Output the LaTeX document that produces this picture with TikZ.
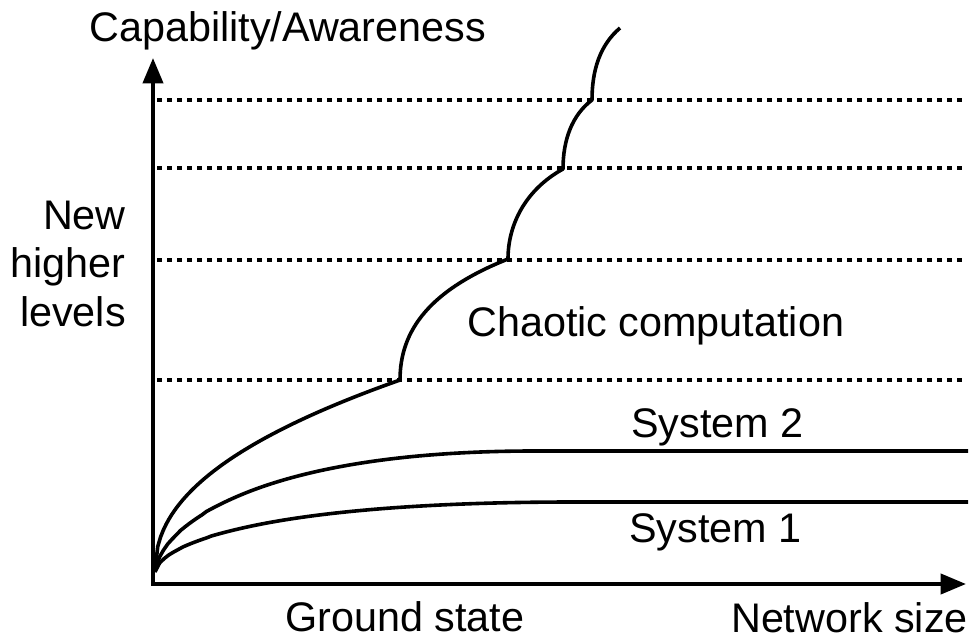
\documentclass[tikz,border=0pt]{standalone}
\usepackage{fontspec}
\setmainfont{Liberation Sans}
\usetikzlibrary{arrows.meta}
\begin{document}
\begin{tikzpicture}[x=0.75pt, y=-0.75pt,
  axis/.style={line width=3pt, line join=miter,
    {Triangle[length=19pt,width=15pt]}-{Triangle[length=19pt,width=15pt]}},
  curve/.style={line width=2.7pt, line join=round},
  level/.style={line width=3pt, dash pattern=on 3.75pt off 3.75pt},
  lbl/.style={inner sep=0pt, anchor=base west, font=\fontsize{31}{36}\selectfont}]
\useasboundingbox (0,0) rectangle (970,641);

% axes
\coordinate (O) at (153,584);
\coordinate (xend) at (966,584);
\coordinate (yend) at (153,58);
\draw[axis] (yend) -- (O) -- (xend);

% dotted level lines
\foreach \yy in {100,168,260,380}
  \draw[level] (157,\yy) -- (962,\yy);

% step points of the chaotic curve
\coordinate (k1) at (400,380);
\coordinate (k2) at (508,259);
\coordinate (k3) at (563,169);
\coordinate (k4) at (592,100);
\coordinate (k5) at (620,28);

% System 1
\draw[curve] (155,572) -- plot[domain=0.01:420, samples=90]
  ({155+\x},{572-70*(1-(1-(\x/420)^0.6)*(1-(\x/420)^0.6))}) -- (968,502);

% System 2
\draw[curve] (155,572) -- plot[domain=0.01:380, samples=90]
  ({155+\x},{572-121*(1-(1-(\x/380)^0.62)*(1-(\x/380)^0.62))}) -- (968,451);

% chaotic computation: smooth rise, then steps to higher levels
\draw[curve] (155,572) -- plot[domain=0.01:245, samples=90]
  ({155+\x},{572-16.15*(\x)^0.45}) -- (k1)
  .. controls (400,330) and (430,290) .. (k2)
  .. controls (508,225) and (525,190) .. (k3)
  .. controls (563,140) and (572,115) .. (k4)
  .. controls (592,70) and (600,45) .. (k5);

% labels
\node[lbl] (ylab) at (89,42) {Capability/Awareness};
\node[lbl, anchor=base east] (lev1) at (126,230) {New};
\node[lbl, anchor=base east] (lev2) at (126,278) {higher};
\node[lbl, anchor=base east] (lev3) at (126,326) {levels};
\node[lbl] (chaos) at (467,337) {Chaotic computation};
\node[lbl] (sys2) at (631,437) {System 2};
\node[lbl] (sys1) at (629,542) {System 1};
\node[lbl] (ground) at (285,631) {Ground state};
\node[lbl, anchor=base east] (net) at (968,632) {Network size};
\end{tikzpicture}
\end{document}
